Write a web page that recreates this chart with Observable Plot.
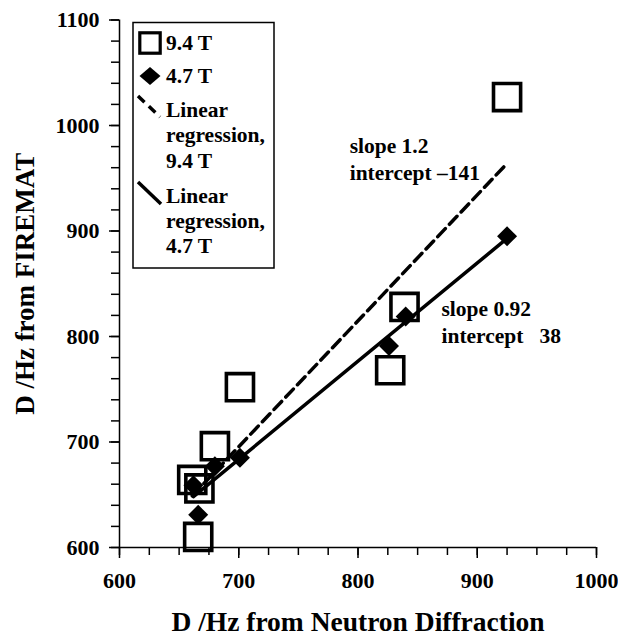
<!DOCTYPE html>
<html>
<head>
<meta charset="utf-8">
<script src="https://cdn.jsdelivr.net/npm/d3@7"></script>
<script src="https://cdn.jsdelivr.net/npm/@observablehq/plot@0.6"></script>
<style>
  html, body { margin: 0; padding: 0; background: #fff; }
  #wrap { position: relative; width: 618px; height: 635px; }
</style>
</head>
<body>
<div id="wrap"></div>
<script>
const FONT = "'Liberation Serif', 'Times New Roman', Times, serif";

// ---- data ----
const xTicks = [600, 700, 800, 900, 1000];
const yTicks = [600, 700, 800, 900, 1000, 1100];
const seriesNames = ["9.4 T", "4.7 T"];
const x94 = [925, 839, 827, 701, 680, 661, 667, 666];
const y94 = [1027, 828, 768, 752, 696, 664, 656, 610];
const x47 = [925, 840, 826, 701, 680, 662, 666];
const y47 = [895, 819, 791, 685, 677, 659, 631];
const regLabels = ["slope 1.2\nintercept \u2013141", "slope 0.92\nintercept\u00a0\u00a0\u00a038"];
const regLabelX = [793, 870];
const regLabelY = [948, 794];
const xTitle = "D /Hz from Neutron Diffraction";
const yTitle = "D /Hz from FIREMAT";
const legendLines = [["9.4 T"], ["4.7 T"], ["Linear", "regression,", "9.4 T"], ["Linear", "regression,", "4.7 T"]];

// ---- tables ----
const pts94 = x94.map((x, i) => ({x, y: y94[i]}));
const pts47 = x47.map((x, i) => ({x, y: y47[i]}));
// least-squares trend line over the series' x range
function regLine(xs, ys) {
  const mx = d3.mean(xs), my = d3.mean(ys);
  const sxy = d3.sum(xs, (x, i) => (x - mx) * (ys[i] - my));
  const sxx = d3.sum(xs, x => (x - mx) * (x - mx));
  const k = sxy / sxx, b = my - k * mx;
  const [lo, hi] = d3.extent(xs);
  return [lo, hi].map(x => ({x, y: k * x + b}));
}
const reg94 = regLine(x94, y94);
const reg47 = regLine(x47, y47);
const annots = regLabels.map((t, i) => ({x: regLabelX[i], y: regLabelY[i], t}));

const plot = Plot.plot({
  width: 618,
  height: 635,
  marginLeft: 119,
  marginRight: 22,
  marginTop: 19.5,
  marginBottom: 88,
  x: {domain: [600, 1000], label: null},
  y: {domain: [600, 1100], label: null},
  style: {fontFamily: FONT, fontWeight: "bold", color: "#000", background: "#fff", overflow: "visible"},
  marks: [
    Plot.axisX({ticks: d3.range(600, 1001, 25), tickSize: 8, tickFormat: () => "", label: null, strokeWidth: 1.5}),
    Plot.axisX({ticks: xTicks, tickSize: 11, tickPadding: 14, fontSize: 22, fontWeight: "bold", tickFormat: d => String(d), label: null, strokeWidth: 1.5}),
    Plot.axisY({ticks: d3.range(600, 1101, 20), tickSize: 8, tickFormat: () => "", label: null, strokeWidth: 1.5}),
    Plot.axisY({ticks: yTicks, tickSize: 10, tickPadding: 10, fontSize: 22, fontWeight: "bold", tickFormat: d => String(d), label: null, strokeWidth: 1.5}),
    Plot.ruleY([600], {stroke: "#000", strokeWidth: 1.5}),
    Plot.ruleX([600], {stroke: "#000", strokeWidth: 1.5}),
    Plot.dot(pts94, {x: "x", y: "y", symbol: "square", r: 15.3, stroke: "#000", strokeWidth: 3.6, fill: "none"}),
    Plot.dot(pts47, {x: "x", y: "y", symbol: "diamond2", r: 9, fill: "#000", stroke: "none"}),
    Plot.line(reg94, {x: "x", y: "y", stroke: "#000", strokeWidth: 3.5, strokeDasharray: "11,6"}),
    Plot.line(reg47, {x: "x", y: "y", stroke: "#000", strokeWidth: 3.5}),
    Plot.text(annots, {x: "x", y: "y", text: "t", textAnchor: "start", lineAnchor: "bottom", lineHeight: 1.26, fontSize: 21.5, fontWeight: "bold", fill: "#000"}),
    Plot.text([xTitle], {text: d => d, frameAnchor: "bottom", dy: 83, lineAnchor: "bottom", textAnchor: "middle", fontSize: 27.5, fontWeight: "bold", fill: "#000"}),
    Plot.text([yTitle], {text: d => d, frameAnchor: "left", dx: -86, rotate: -90, lineAnchor: "bottom", textAnchor: "middle", fontSize: 27, fontWeight: "bold", fill: "#000"})
  ]
});

const wrap = document.getElementById("wrap");
wrap.appendChild(plot);

// ---- legend overlay ----
const leg = d3.select(wrap).append("svg")
  .attr("width", 618).attr("height", 635)
  .style("position", "absolute").style("left", "0px").style("top", "0px")
  .style("pointer-events", "none");
leg.append("rect").attr("x", 133).attr("y", 22.5).attr("width", 141).attr("height", 245.5)
  .attr("fill", "#fff").attr("stroke", "#000").attr("stroke-width", 1.5);
// square marker
leg.append("rect").attr("x", 150 - 10.2).attr("y", 43 - 10.2).attr("width", 20.4).attr("height", 20.4)
  .attr("fill", "none").attr("stroke", "#000").attr("stroke-width", 3.2);
// diamond marker
leg.append("path").attr("d", "M150,67 L160.5,76 L150,85 L139.5,76 Z").attr("fill", "#000");
// dashed line marker
leg.append("line").attr("x1", 138).attr("y1", 96).attr("x2", 160).attr("y2", 117)
  .attr("stroke", "#000").attr("stroke-width", 3.5).attr("stroke-dasharray", "9,6");
// solid line marker
leg.append("line").attr("x1", 138).attr("y1", 182).attr("x2", 161).attr("y2", 204)
  .attr("stroke", "#000").attr("stroke-width", 3.5);
const baselines = [[50], [83], [116.7, 141.7, 168], [203, 228, 253]];
legendLines.forEach((lines, i) => {
  lines.forEach((t, j) => {
    leg.append("text").attr("x", 166).attr("y", baselines[i][j]).text(t)
      .attr("font-family", FONT).attr("font-weight", "bold").attr("font-size", 21.5).attr("fill", "#000");
  });
});
</script>
</body>
</html>
